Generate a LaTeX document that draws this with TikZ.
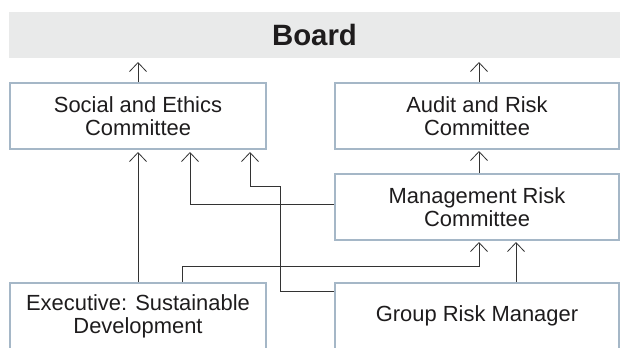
\documentclass[tikz,border=0pt]{standalone}
\usepackage{fontspec}
\setmainfont{Liberation Sans}
\usetikzlibrary{arrows.meta}
\definecolor{boxline}{HTML}{A5B7C7}
\definecolor{boardfill}{HTML}{E9EAEA}
\definecolor{linec}{HTML}{333333}
\definecolor{txt}{HTML}{1E1C1D}
\tikzset{
  orgbox/.style={draw=boxline, line width=2bp, fill=white, text=txt,
    minimum height=66bp, align=center, inner sep=0pt,
    font=\fontsize{22}{23}\selectfont},
  arr/.style={draw=linec, line width=0.8bp,
    -{Straight Barb[length=9bp,width=17bp,line width=0.8bp]}},
}
\begin{document}
\begin{tikzpicture}[x=1bp,y=-1bp]
\useasboundingbox (0,0) rectangle (621,347);
\node[fill=boardfill, minimum width=611bp, minimum height=46bp, inner sep=0pt,
      outer sep=0pt, text=txt, font=\fontsize{29.5}{30}\selectfont\bfseries]
      (board) at (314.5,35) {Board};
\node[orgbox, minimum width=256bp] (social) at (138,116) {Social and Ethics\\Committee};
\node[orgbox, minimum width=284bp] (audit) at (477,116) {Audit and Risk\\Committee};
\node[orgbox, minimum width=284bp] (mgmt) at (477,207) {Management Risk\\Committee};
\node[orgbox, minimum width=256bp] (exec) at (138,316) {Executive: Sustainable\\Development};
\node[orgbox, minimum width=284bp] (grm) at (477,316) {Group Risk Manager};
% columns and levels
\coordinate (c1) at (138,0);
\coordinate (c2) at (190,0);
\coordinate (c3) at (250,0);
\coordinate (c4) at (280,0);
\coordinate (c5) at (182,0);
\coordinate (c6) at (479,0);
\coordinate (c7) at (516,0);
\coordinate (l186) at (0,186);
\coordinate (l204) at (0,204);
\coordinate (l266) at (0,266);
\coordinate (l291) at (0,291);
% connectors
\draw[arr, shorten >=4bp] (c1 |- social.north) -- (c1 |- board.south);
\draw[arr, shorten >=4bp] (c6 |- audit.north) -- (c6 |- board.south);
\draw[arr, shorten >=1bp] (c6 |- mgmt.north) -- (c6 |- audit.south);
\draw[arr, shorten >=2bp] (c1 |- exec.north) -- (c1 |- social.south);
\draw[arr, shorten >=2bp] (mgmt.west |- l204) -- (c2 |- l204) -- (c2 |- social.south);
\draw[arr, shorten >=2bp] (grm.west |- l291) -- (c4 |- l291) -- (c4 |- l186) -- (c3 |- l186) -- (c3 |- social.south);
\draw[arr, shorten >=1bp] (c5 |- exec.north) -- (c5 |- l266) -- (c6 |- l266) -- (c6 |- mgmt.south);
\draw[arr, shorten >=1bp] (c7 |- grm.north) -- (c7 |- mgmt.south);
\end{tikzpicture}
\end{document}
